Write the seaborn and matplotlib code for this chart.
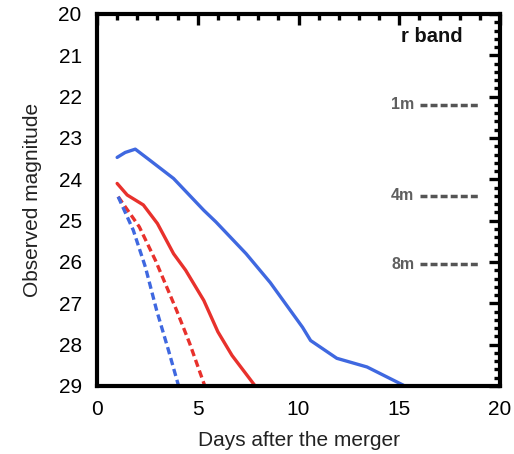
import numpy as np
import pandas as pd
import matplotlib
matplotlib.use("Agg")
import matplotlib.pyplot as plt
import seaborn as sns
from matplotlib.ticker import MultipleLocator

# Data
blue_solid_days = [1.0, 1.4, 1.9, 2.6, 3.8, 5.3, 5.9, 7.4, 8.6, 10.2, 10.6, 11.9, 13.4, 15.2]
blue_solid_mag  = [23.47, 23.35, 23.27, 23.53, 23.98, 24.75, 25.03, 25.8, 26.5, 27.58, 27.9, 28.33, 28.54, 28.98]

red_solid_days = [1.0, 1.5, 2.3, 3.0, 3.8, 4.4, 5.3, 6.0, 6.7, 7.85]
red_solid_mag  = [24.1, 24.38, 24.62, 25.07, 25.8, 26.2, 26.93, 27.69, 28.26, 29.0]

red_dash_days = [1.05, 2.1, 2.9, 3.95, 4.6, 5.35]
red_dash_mag  = [24.42, 25.15, 25.96, 27.17, 27.97, 29.0]

blue_dash_days = [1.05, 1.8, 2.4, 2.96, 3.55, 4.05]
blue_dash_mag  = [24.42, 25.23, 26.12, 27.17, 28.14, 29.0]

limit_labels = ["1m", "4m", "8m"]
limit_mags = [22.2, 24.4, 26.05]

rows = []
for name, d, m in [("blue_solid", blue_solid_days, blue_solid_mag),
                   ("red_solid", red_solid_days, red_solid_mag),
                   ("red_dash", red_dash_days, red_dash_mag),
                   ("blue_dash", blue_dash_days, blue_dash_mag)]:
    for x, y in zip(d, m):
        rows.append({"series": name, "day": x, "mag": y})
df = pd.DataFrame(rows)

sns.set_style("white")
plt.rcParams['font.family'] = ['Liberation Sans', 'DejaVu Sans']

fig = plt.figure(figsize=(5.14, 4.54), dpi=100)
ax = fig.add_axes([0.1887, 0.1498, 0.9728 - 0.1887, 0.9692 - 0.1498])

BLUE = "#3f68e0"
RED = "#e8312c"
palette = {"blue_solid": BLUE, "red_solid": RED, "red_dash": RED, "blue_dash": BLUE}
dashes = {"blue_solid": "", "red_solid": "", "red_dash": (2.2, 1.2), "blue_dash": (2.2, 1.2)}
sns.lineplot(data=df, x="day", y="mag", hue="series", style="series",
             palette=palette, dashes=dashes, linewidth=2.4, legend=False,
             sort=False, estimator=None, ax=ax)

ax.set_xlim(0, 20)
ax.set_ylim(29, 20)
ax.xaxis.set_major_locator(MultipleLocator(5))
ax.xaxis.set_minor_locator(MultipleLocator(1))
ax.yaxis.set_major_locator(MultipleLocator(1))
ax.yaxis.set_minor_locator(MultipleLocator(0.2))
ax.tick_params(which="both", direction="in", top=True, right=True, width=2.4, color="black",
               labelsize=15, colors="black")
ax.tick_params(which="major", length=8)
ax.tick_params(which="minor", length=4)
ax.tick_params(axis="x", which="major", pad=10)
ax.tick_params(axis="y", which="major", pad=11)
for s in ax.spines.values():
    s.set_linewidth(3)
    s.set_color("black")

ax.set_xlabel("Days after the merger", fontsize=15, color="#222222", labelpad=9)
ax.set_ylabel("Observed magnitude", fontsize=15, color="#222222", labelpad=12)

ax.text(16.6, 20.55, "r band", fontsize=14.5, fontweight="bold", ha="center", va="center", color="#111111")
for lab, m in zip(limit_labels, limit_mags):
    ax.text(15.75, m, lab, fontsize=11.5, fontweight="bold", ha="right", va="center", color="#5f5f5f")
    ax.plot([16.05, 19.0], [m, m], color="#555555", linewidth=2.5, linestyle=(0, (2.0, 0.9)))

fig.savefig("out.png", dpi=100)
